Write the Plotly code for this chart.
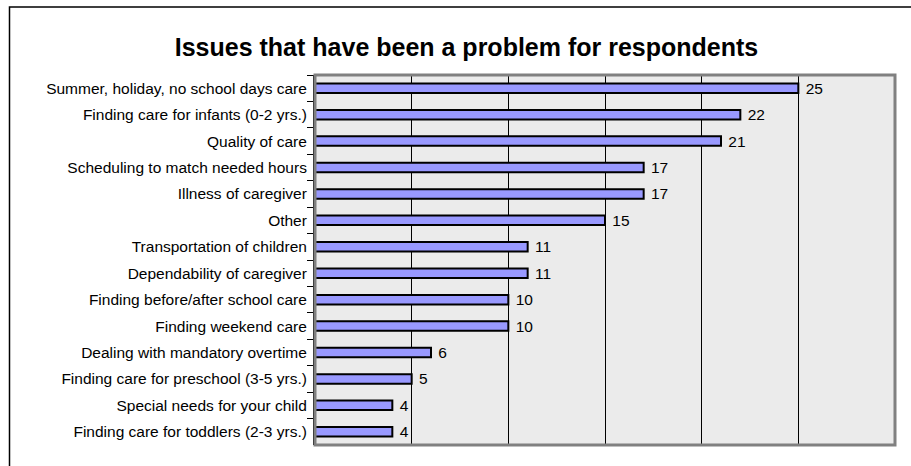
import plotly.graph_objects as go

categories = [
    "Summer, holiday, no school days care",
    "Finding care for infants (0-2 yrs.)",
    "Quality of care",
    "Scheduling to match needed hours",
    "Illness of caregiver",
    "Other",
    "Transportation of children",
    "Dependability of caregiver",
    "Finding before/after school care",
    "Finding weekend care",
    "Dealing with mandatory overtime",
    "Finding care for preschool (3-5 yrs.)",
    "Special needs for your child",
    "Finding care for toddlers (2-3 yrs.)",
]
values = [25, 22, 21, 17, 17, 15, 11, 11, 10, 10, 6, 5, 4, 4]
x_ticks = [0, 5, 10, 15, 20, 25, 30]

W, H = 911, 466
L, R, T, B = 315, 895, 75, 445

def px_x(p):
    return (p - L) / (R - L)

def px_y(p):
    return (B - p) / (B - T)

fig = go.Figure()
fig.add_trace(go.Bar(
    y=categories, x=values, orientation="h",
    marker=dict(color="#9999FF", line=dict(color="#000000", width=2)),
    width=0.36,
    text=values, texttemplate=" %{x}", textposition="outside",
    constraintext="none",
    textfont=dict(family="Liberation Sans, Arial", size=15.5, color="#000000"),
    cliponaxis=False, hoverinfo="skip",
))

fig.update_layout(
    width=W, height=H,
    margin=dict(l=L, r=W - R, t=T, b=H - B, pad=0),
    paper_bgcolor="#FFFFFF", plot_bgcolor="#EBEBEB",
    showlegend=False,
    font=dict(family="Liberation Sans, Arial", color="#000000"),
    title=dict(
        text="<b>Issues that have been a problem for respondents</b>",
        font=dict(family="Liberation Sans, Arial", size=25, color="#000000"),
        x=px_x(466.5), xref="paper", xanchor="center",
        y=1 - 47 / H, yref="container", yanchor="middle",
    ),
    xaxis=dict(
        range=[0, 30], tickvals=x_ticks, showticklabels=False,
        showgrid=True, gridcolor="#000000", gridwidth=1,
        zeroline=False, showline=False, ticks="",
        fixedrange=True,
    ),
    yaxis=dict(
        autorange="reversed", type="category",
        showline=True, linecolor="#000000", linewidth=2,
        ticks="outside", tickson="boundaries", ticklen=6, tickwidth=1, tickcolor="#000000",
        tickfont=dict(family="Liberation Sans, Arial", size=15.5, color="#000000"),
        showgrid=False, zeroline=False, ticklabelstandoff=3,
        fixedrange=True,
    ),
    shapes=[
        dict(type="rect", xref="paper", yref="paper",
             x0=0, x1=1, y0=0, y1=1,
             line=dict(color="#808080", width=3), layer="above"),
        dict(type="rect", xref="paper", yref="paper",
             x0=px_x(9.5), x1=px_x(930), y0=px_y(7), y1=px_y(480),
             line=dict(color="#000000", width=1.5), layer="above"),
    ],
)

fig.write_html(
    "out.html",
    config={"displayModeBar": False},
    post_script="document.body.style.margin='0';document.body.style.padding='0';",
)
